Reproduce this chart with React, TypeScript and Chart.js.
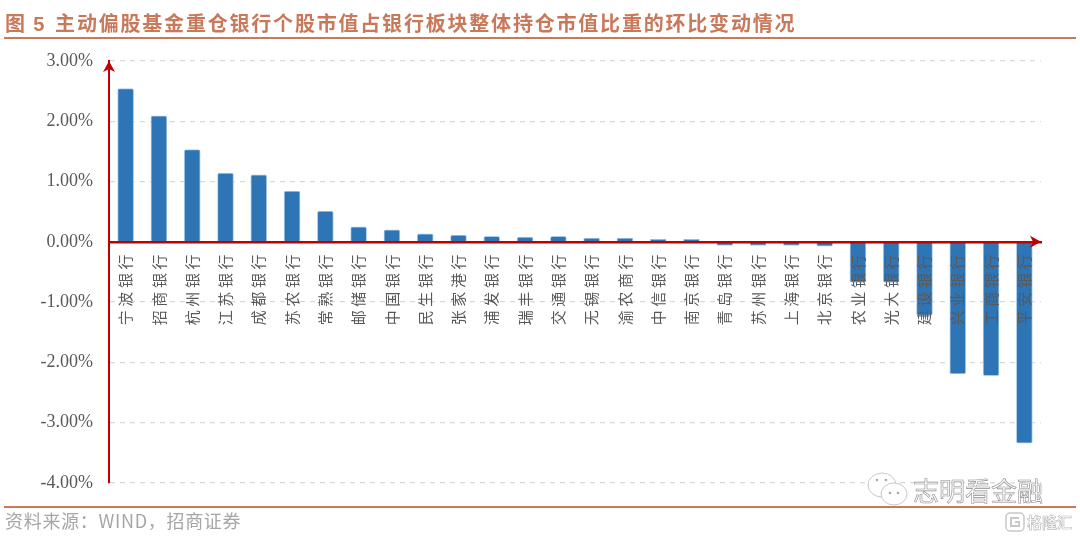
import { useEffect, useRef } from "react";
import { Chart, registerables } from "chart.js";

Chart.register(...registerables);

const banks = [
  "宁波银行", "招商银行", "杭州银行", "江苏银行", "成都银行", "苏农银行", "常熟银行",
  "邮储银行", "中国银行", "民生银行", "张家港行", "浦发银行", "瑞丰银行", "交通银行",
  "无锡银行", "渝农商行", "中信银行", "南京银行", "青岛银行", "苏州银行", "上海银行",
  "北京银行", "农业银行", "光大银行", "建设银行", "兴业银行", "工商银行", "平安银行",
];

const changes = [
  2.53, 2.08, 1.52, 1.13, 1.1, 0.83, 0.5, 0.24, 0.19, 0.12, 0.1, 0.08, 0.07, 0.08,
  0.05, 0.05, 0.03, 0.03, -0.05, -0.05, -0.05, -0.06, -0.66, -0.66, -1.21, -2.18, -2.21, -3.33,
];

const RED = "#c00000";
const ACCENT = "#c9785a";

// arrow heads on both axes + wider letter spacing for the category labels
const axisArrows = {
  id: "axisArrows",
  afterDatasetsDraw(chart: any) {
    chart.ctx.letterSpacing = "3.6px";
  },
  afterDraw(chart: any) {
    const { ctx, chartArea, scales } = chart;
    ctx.letterSpacing = "0px";
    const zero = scales.y.getPixelForValue(0);
    ctx.save();
    ctx.fillStyle = RED;
    ctx.beginPath();
    ctx.moveTo(chartArea.left, chartArea.top);
    ctx.lineTo(chartArea.left - 6, chartArea.top + 11);
    ctx.lineTo(chartArea.left, chartArea.top + 8);
    ctx.lineTo(chartArea.left + 6, chartArea.top + 11);
    ctx.closePath();
    ctx.fill();
    ctx.beginPath();
    ctx.moveTo(chartArea.right, zero);
    ctx.lineTo(chartArea.right - 11, zero - 6);
    ctx.lineTo(chartArea.right - 8, zero);
    ctx.lineTo(chartArea.right - 11, zero + 6);
    ctx.closePath();
    ctx.fill();
    ctx.restore();
  },
};

export default function App() {
  const chartRef = useRef<HTMLCanvasElement | null>(null);

  useEffect(() => {
    if (!chartRef.current) return;
    const chart = new Chart(chartRef.current, {
      type: "bar",
      data: {
        labels: banks,
        datasets: [
          {
            data: changes,
            backgroundColor: "#2e75b6",
            borderColor: "#a9cbe8",
            borderWidth: 1,
            borderRadius: 2,
            borderSkipped: false,
            inflateAmount: 1,
            barPercentage: 0.44,
            categoryPercentage: 1,
          },
        ],
      },
      options: {
        animation: false,
        responsive: false,
        layout: { padding: { top: 61, bottom: 55, right: 39, left: 0 } },
        plugins: { legend: { display: false }, tooltip: { enabled: false } },
        scales: {
          x: {
            position: { y: 0 },
            grid: { display: false, drawTicks: false },
            border: { color: RED, width: 2.5, z: 2 },
            ticks: {
              z: 1,
              autoSkip: false,
              minRotation: 90,
              maxRotation: 90,
              padding: 9,
              color: "#595959",
              font: { family: "'Noto Sans CJK SC'", size: 15 },
            },
          },
          y: {
            min: -4,
            max: 3,
            afterFit: (scale: any) => {
              scale.width = 109;
            },
            grid: { color: "#d9d9d9", lineWidth: 1.3, tickLength: 0, drawTicks: false },
            border: { color: RED, width: 2, dash: [5, 5] as any },
            ticks: {
              stepSize: 1,
              padding: 16,
              color: "#595959",
              font: { family: "'Liberation Serif'", size: 18 },
              callback: (v: any) => Number(v).toFixed(2) + "%",
            },
          },
        },
      },
      plugins: [axisArrows],
    } as any);

    return () => {
      chart.destroy();
    };
  }, []);

  return (
    <div style={{ position: "absolute", left: 0, top: 0, width: 1080, height: 538, overflow: "hidden", background: "#fff" }}>
      <canvas ref={chartRef} width={1080} height={538} style={{ display: "block" }} />
      <div
        style={{
          position: "absolute", left: 5, top: 9, whiteSpace: "nowrap", color: ACCENT, fontWeight: 700,
          fontFamily: "'Noto Sans CJK SC'", fontSize: 20, letterSpacing: 1.8, lineHeight: "28px",
        }}
      >
        图 <span style={{ fontFamily: "'Liberation Sans'" }}>5</span>
        <span style={{ marginLeft: 9 }}>主动偏股基金重仓银行个股市值占银行板块整体持仓市值比重的环比变动情况</span>
      </div>
      <div style={{ position: "absolute", left: 4, right: 4, top: 37, height: 2, background: ACCENT }} />
      <div style={{ position: "absolute", left: 4, right: 4, top: 506, height: 2, background: ACCENT }} />
      <div
        style={{
          position: "absolute", left: 5, top: 508, whiteSpace: "nowrap", color: "#a6a6a6",
          fontFamily: "'Noto Sans CJK SC'", fontSize: 18, letterSpacing: 0.7, lineHeight: "24px",
        }}
      >
        资料来源：WIND，招商证券
      </div>
      <svg style={{ position: "absolute", left: 864, top: 470 }} width={48} height={40} viewBox="0 0 48 40">
        <ellipse cx="18" cy="15" rx="14" ry="12" fill="#fff" stroke="#c8c8c8" />
        <ellipse cx="30" cy="24" rx="13" ry="11" fill="#fff" stroke="#c8c8c8" />
        <circle cx="13" cy="10" r="1.3" fill="#aaa" />
        <circle cx="22" cy="10" r="1.3" fill="#aaa" />
        <circle cx="26" cy="23" r="1.3" fill="#aaa" />
        <circle cx="34" cy="23" r="1.3" fill="#aaa" />
      </svg>
      <div
        style={{
          position: "absolute", left: 913, top: 472, whiteSpace: "nowrap", color: "#fff",
          WebkitTextStroke: "0.6px #8c8c8c", fontFamily: "'Noto Sans CJK SC'", fontSize: 26, lineHeight: "36px",
        }}
      >
        志明看金融
      </div>
      <svg style={{ position: "absolute", left: 1005, top: 512 }} width={20} height={20} viewBox="0 0 20 20">
        <rect x="1" y="1" width="18" height="18" rx="4" fill="#fff" stroke="#c8c8c8" strokeWidth="1.5" />
        <path d="M14 6H6v8h8v-4h-4" fill="none" stroke="#c8c8c8" strokeWidth="2" />
      </svg>
      <div
        style={{
          position: "absolute", left: 1027, top: 511, whiteSpace: "nowrap", color: "#fff",
          WebkitTextStroke: "0.7px #bdbdbd", fontFamily: "'Noto Sans CJK SC'", fontSize: 15, fontWeight: 700, lineHeight: "22px",
        }}
      >
        格隆汇
      </div>
    </div>
  );
}
